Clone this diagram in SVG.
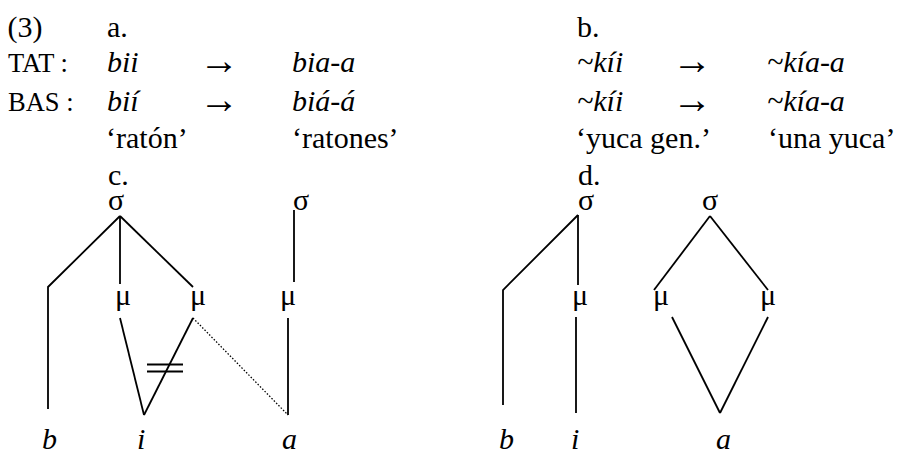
<svg xmlns="http://www.w3.org/2000/svg" width="902" height="452" viewBox="0 0 902 452" font-family="Liberation Serif">
<style>
text{font-size:30px;fill:#000}
.s{font-family:"Liberation Serif"}
.i{font-style:italic}
.sc{font-size:26.5px}
.ar{font-size:40px}
.ln{stroke:#000;stroke-width:1.8;fill:none;stroke-linecap:butt}
.dot{stroke:#000;stroke-width:1.3;fill:none;stroke-dasharray:1.5 1.8}
</style>
<rect width="902" height="452" fill="#fff"/>
<g id="header" font-family="Liberation Serif">
<text class="s" style="font-family:'Liberation Serif', serif" font-family="Liberation Serif" x="7.5" y="37">(3)</text>
<text class="s" style="font-family:'Liberation Serif', serif" font-family="Liberation Serif" x="107" y="37">a.</text>
<text class="s" style="font-family:'Liberation Serif', serif" font-family="Liberation Serif" x="577" y="37">b.</text>
</g>
<g id="row-tat" font-family="Liberation Serif">
<text class="s sc" style="font-family:'Liberation Serif', serif" font-family="Liberation Serif" x="8" y="72">TAT :</text>
<text class="s i" style="font-family:'Liberation Serif', serif" font-family="Liberation Serif" x="107" y="72">bii</text>
<text class="s ar" style="font-family:'Liberation Serif', serif" font-family="Liberation Serif" x="199" y="74">→</text>
<text class="s i" style="font-family:'Liberation Serif', serif" font-family="Liberation Serif" x="292" y="72">bia-a</text>
<text class="s i" style="font-family:'Liberation Serif', serif" font-family="Liberation Serif" x="577" y="72">~kíi</text>
<text class="s ar" style="font-family:'Liberation Serif', serif" font-family="Liberation Serif" x="672" y="74">→</text>
<text class="s i" style="font-family:'Liberation Serif', serif" font-family="Liberation Serif" x="767" y="72">~kía-a</text>
</g>
<g id="row-bas" font-family="Liberation Serif">
<text class="s sc" style="font-family:'Liberation Serif', serif" font-family="Liberation Serif" x="8" y="111">BAS :</text>
<text class="s i" style="font-family:'Liberation Serif', serif" font-family="Liberation Serif" x="107" y="111">bií</text>
<text class="s ar" style="font-family:'Liberation Serif', serif" font-family="Liberation Serif" x="199" y="113">→</text>
<text class="s i" style="font-family:'Liberation Serif', serif" font-family="Liberation Serif" x="292" y="111">biá-á</text>
<text class="s i" style="font-family:'Liberation Serif', serif" font-family="Liberation Serif" x="577" y="111">~kíi</text>
<text class="s ar" style="font-family:'Liberation Serif', serif" font-family="Liberation Serif" x="672" y="113">→</text>
<text class="s i" style="font-family:'Liberation Serif', serif" font-family="Liberation Serif" x="767" y="111">~kía-a</text>
</g>
<g id="glosses" font-family="Liberation Serif">
<text class="s" style="font-family:'Liberation Serif', serif" font-family="Liberation Serif" x="106" y="148">‘ratón’</text>
<text class="s" style="font-family:'Liberation Serif', serif" font-family="Liberation Serif" x="292" y="148">‘ratones’</text>
<text class="s" style="font-family:'Liberation Serif', serif" font-family="Liberation Serif" x="576" y="148">‘yuca gen.’</text>
<text class="s" style="font-family:'Liberation Serif', serif" font-family="Liberation Serif" x="768" y="148">‘una yuca’</text>
</g>
<g id="tree-c" font-family="Liberation Serif">
<text class="s" style="font-family:'Liberation Serif', serif" font-family="Liberation Serif" x="108" y="185">c.</text>
<g id="c-sigma1"><text class="s" style="font-family:'Liberation Serif', serif" font-family="Liberation Serif" x="108" y="210">σ</text></g>
<g id="c-sigma2"><text class="s" style="font-family:'Liberation Serif', serif" font-family="Liberation Serif" x="293" y="210">σ</text></g>
<g id="c-mu1"><text class="s" style="font-family:'Liberation Serif', serif" font-family="Liberation Serif" x="115" y="305">μ</text></g>
<g id="c-mu2"><text class="s" style="font-family:'Liberation Serif', serif" font-family="Liberation Serif" x="190" y="305">μ</text></g>
<g id="c-mu3"><text class="s" style="font-family:'Liberation Serif', serif" font-family="Liberation Serif" x="280" y="305">μ</text></g>
<g id="c-b"><text class="s i" style="font-family:'Liberation Serif', serif" font-family="Liberation Serif" x="42" y="449">b</text></g>
<g id="c-i"><text class="s i" style="font-family:'Liberation Serif', serif" font-family="Liberation Serif" x="137" y="449">i</text></g>
<g id="c-a"><text class="s i" style="font-family:'Liberation Serif', serif" font-family="Liberation Serif" x="282" y="449">a</text></g>
</g>
<g id="tree-d" font-family="Liberation Serif">
<text class="s" style="font-family:'Liberation Serif', serif" font-family="Liberation Serif" x="578" y="185">d.</text>
<g id="d-sigma1"><text class="s" style="font-family:'Liberation Serif', serif" font-family="Liberation Serif" x="578" y="210">σ</text></g>
<g id="d-sigma2"><text class="s" style="font-family:'Liberation Serif', serif" font-family="Liberation Serif" x="702" y="210">σ</text></g>
<g id="d-mu1"><text class="s" style="font-family:'Liberation Serif', serif" font-family="Liberation Serif" x="572" y="305">μ</text></g>
<g id="d-mu2"><text class="s" style="font-family:'Liberation Serif', serif" font-family="Liberation Serif" x="653" y="305">μ</text></g>
<g id="d-mu3"><text class="s" style="font-family:'Liberation Serif', serif" font-family="Liberation Serif" x="760" y="305">μ</text></g>
<g id="d-b"><text class="s i" style="font-family:'Liberation Serif', serif" font-family="Liberation Serif" x="499" y="449">b</text></g>
<g id="d-i"><text class="s i" style="font-family:'Liberation Serif', serif" font-family="Liberation Serif" x="571" y="449">i</text></g>
<g id="d-a"><text class="s i" style="font-family:'Liberation Serif', serif" font-family="Liberation Serif" x="716" y="449">a</text></g>
</g>
<g id="connectors">
<polyline class="ln" points="120,216 48,287 48,409"/>
<line class="ln" x1="120" y1="216" x2="120" y2="284"/>
<line class="ln" x1="120" y1="216" x2="193" y2="287"/>
<line class="ln" x1="120" y1="318" x2="144" y2="415"/>
<line class="ln" x1="193" y1="318" x2="144" y2="415"/>
<line class="dot" x1="193" y1="318" x2="288" y2="415"/>
<line class="ln" x1="294" y1="210" x2="294" y2="282"/>
<line class="ln" x1="288" y1="318" x2="288" y2="415"/>
<line class="ln" x1="147" y1="364.5" x2="183" y2="364.5"/>
<line class="ln" x1="147" y1="371.5" x2="183" y2="371.5"/>
<polyline class="ln" points="578,215 503,290 503,405"/>
<line class="ln" x1="578" y1="215" x2="578" y2="285"/>
<line class="ln" x1="576" y1="317" x2="576" y2="413"/>
<line class="ln" x1="710" y1="216" x2="654" y2="290"/>
<line class="ln" x1="710" y1="216" x2="768" y2="290"/>
<line class="ln" x1="672" y1="317" x2="720" y2="413"/>
<line class="ln" x1="768" y1="317" x2="720" y2="413"/>
</g>
</svg>
